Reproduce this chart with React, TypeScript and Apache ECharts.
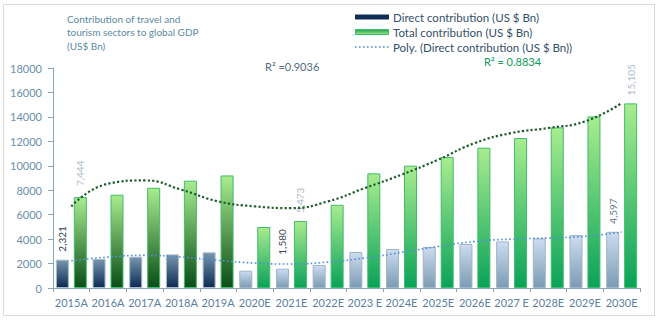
import React, { useEffect, useRef } from "react";
import * as echarts from "echarts";

const categories = ["2015A", "2016A", "2017A", "2018A", "2019A", "2020E", "2021E", "2022E", "2023 E", "2024E", "2025E", "2026E", "2027 E", "2028E", "2029E", "2030E"];
const directValues = [2321, 2380, 2560, 2750, 2920, 1415, 1580, 1880, 2945, 3190, 3350, 3600, 3810, 4060, 4330, 4597];
const totalValues = [7444, 7630, 8200, 8780, 9210, 4990, 5473, 6810, 9380, 10010, 10710, 11480, 12270, 13140, 14040, 15105];
const directTrend = [2230, 2530, 2670, 2530, 2260, 2040, 1960, 2125, 2450, 2915, 3400, 3810, 4000, 4090, 4220, 4580];
const totalTrend = [6675, 8530, 8800, 8040, 7090, 6680, 6540, 7090, 8180, 9270, 10500, 11860, 12680, 13090, 13630, 15130];
const legendNames = ["Direct contribution (US $ Bn)", "Total contribution (US $ Bn)", "Poly. (Direct contribution (US $ Bn))"];
const actualCount = 5;
const labelledIndexes = [0, 6, 15];
const directLabelColors: Record<number, string> = { 0: "#2b3b4b", 6: "#3a4656", 15: "#6b7785" };
const totalLabelColor = "#aebbc9";

const FONT = "Lato, 'Open Sans', sans-serif";

const grad = (top: string, bottom: string) =>
  new echarts.graphic.LinearGradient(0, 0, 0, 1, [
    { offset: 0, color: top },
    { offset: 1, color: bottom },
  ]);

export default function App() {
  const ref = useRef<HTMLDivElement>(null);
  useEffect(() => {
    if (!ref.current) return;
    const chart = echarts.init(ref.current, undefined, { renderer: "svg" });

    const fmt = (p: any) => Number(p.value).toLocaleString("en-US");

    const directData = directValues.map((v, i) => {
      const actual = i < actualCount;
      const item: any = {
        value: v,
        itemStyle: {
          color: actual ? grad("#7796ad", "#0b2b55") : grad("#cddcf1", "#7b9bb2"),
          borderColor: actual ? "#a9bccb" : "#9fb4c6",
          borderWidth: 1,
        },
      };
      if (labelledIndexes.includes(i)) {
        item.label = {
          show: true,
          position: "top",
          rotate: 90,
          align: "left",
          verticalAlign: "middle",
          distance: i === 6 ? 14 : 8,
          formatter: fmt,
          color: directLabelColors[i],
          fontSize: 10,
          fontFamily: FONT,
        };
      }
      return item;
    });

    const totalData = totalValues.map((v, i) => {
      const actual = i < actualCount;
      const item: any = {
        value: v,
        itemStyle: {
          color: actual ? grad("#a9ec8f", "#0a4d18") : grad("#a9ec8f", "#0aa25a"),
          borderColor: "#3fbd6b",
          borderWidth: 1,
        },
      };
      if (labelledIndexes.includes(i)) {
        item.label = {
          show: true,
          position: "top",
          rotate: 90,
          align: "left",
          verticalAlign: "middle",
          distance: i === 0 ? 11 : 8,
          formatter: fmt,
          color: totalLabelColor,
          fontSize: 10,
          fontFamily: FONT,
        };
      }
      return item;
    });

    const legendText = (text: string, y: number) => ({
      type: "text",
      x: 393,
      y,
      style: { text, font: `11.5px ${FONT}`, fill: "#34506b", verticalAlign: "middle", align: "left" },
    });

    chart.setOption({
      animation: false,
      backgroundColor: "#ffffff",
      textStyle: { fontFamily: FONT },
      grid: { left: 53, right: 20, top: 68, bottom: 34, containLabel: false },
      xAxis: {
        type: "category",
        data: categories,
        axisLine: { show: true, lineStyle: { color: "#8aa5b8", width: 1 } },
        axisTick: { show: true, length: 4, alignWithLabel: false, lineStyle: { color: "#8aa5b8" } },
        axisLabel: { interval: 0, color: "#5b80a0", fontSize: 11, margin: 9, fontFamily: FONT },
        splitLine: { show: false },
      },
      yAxis: {
        type: "value",
        min: 0,
        max: 18000,
        interval: 2000,
        axisLine: { show: true, lineStyle: { color: "#8aa5b8", width: 1 } },
        axisTick: { show: true, length: 5, lineStyle: { color: "#8aa5b8" } },
        axisLabel: { color: "#6a90aa", fontSize: 11, margin: 11, fontFamily: FONT, formatter: (v: number) => String(v) },
        splitLine: { show: false },
      },
      series: [
        {
          name: legendNames[0],
          type: "bar",
          barWidth: 13,
          barGap: "38%",
          data: directData,
        },
        {
          name: legendNames[1],
          type: "bar",
          barWidth: 13,
          barGap: "38%",
          data: totalData,
        },
        {
          name: legendNames[2],
          type: "line",
          data: directTrend,
          smooth: 0.5,
          symbol: "none",
          z: 5,
          itemStyle: { color: "#4f8fd6" },
          lineStyle: { color: "#4f8fd6", width: 1.6, type: [1.6, 2.4] },
        },
        {
          name: "Poly. (Total contribution (US $ Bn))",
          type: "line",
          data: totalTrend,
          smooth: 0.5,
          symbol: "none",
          z: 5,
          itemStyle: { color: "#1d5c2a" },
          lineStyle: { color: "#1d5c2a", width: 2.2, type: [2.2, 2.2] },
        },
      ],
      graphic: [
        {
          type: "rect",
          shape: { x: 3.5, y: 4.5, width: 651, height: 311 },
          style: { fill: "none", stroke: "#d9d9d9", lineWidth: 1 },
          silent: true,
          z: -1,
        },
        {
          type: "text",
          left: 67,
          top: 12,
          style: {
            text: "Contribution of travel and\ntourism sectors to global GDP\n(US$ Bn)",
            font: `10px ${FONT}`,
            fill: "#5a8aa2",
            lineHeight: 13.5,
          },
        },
        {
          type: "rect",
          shape: { x: 355, y: 14.5, width: 34, height: 5 },
          style: { fill: "#0f2d55" },
        },
        legendText(legendNames[0], 17),
        {
          type: "rect",
          shape: { x: 355.5, y: 29.5, width: 33, height: 5 },
          style: { fill: grad("#1aa04a", "#9be88a"), stroke: "#3fbd6b", lineWidth: 1 },
        },
        legendText(legendNames[1], 32),
        {
          type: "line",
          shape: { x1: 355, y1: 47, x2: 389, y2: 47 },
          style: { stroke: "#4f8fd6", lineWidth: 1.6, lineDash: [1.6, 2.4] },
        },
        legendText(legendNames[2], 47),
        {
          type: "text",
          left: 265,
          top: 61,
          style: { text: "R² =0.9036", font: `11px ${FONT}`, fill: "#4f6e84" },
        },
        {
          type: "text",
          left: 484,
          top: 56,
          style: { text: "R² = 0.8834", font: `11px ${FONT}`, fill: "#0c9c55" },
        },
      ],
    });
    return () => chart.dispose();
  }, []);
  return (
    <div
      ref={ref}
      style={{ position: "fixed", left: 0, top: 0, width: 660, height: 322, background: "#fff" }}
    />
  );
}
